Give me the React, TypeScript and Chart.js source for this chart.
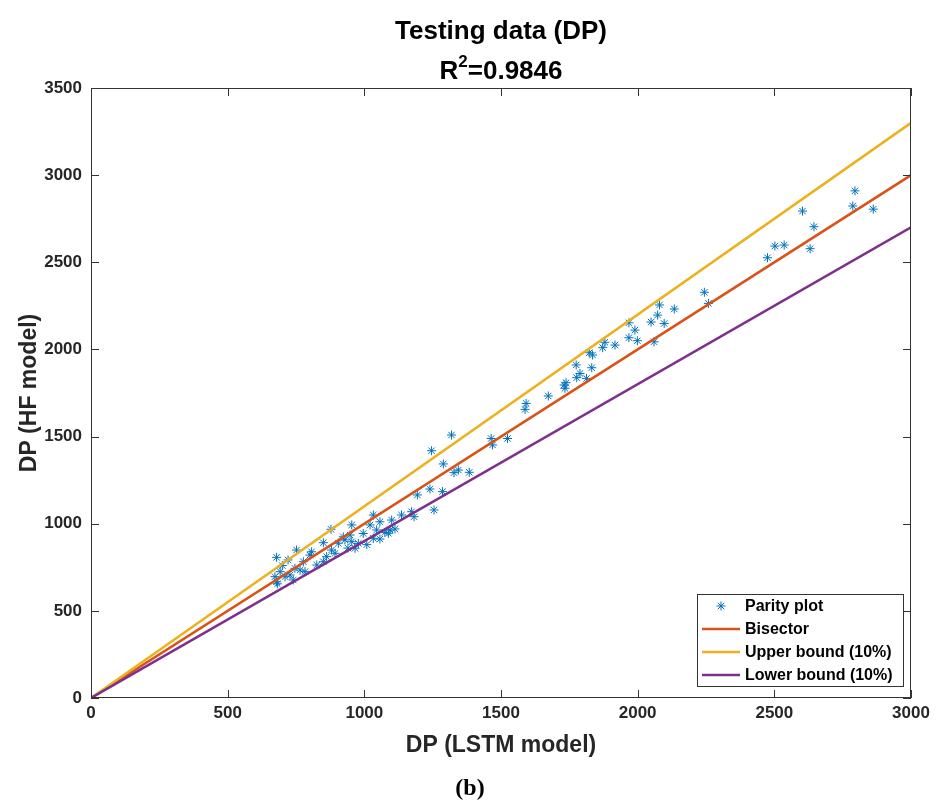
import React, { useEffect, useRef } from "react";
import { Chart, registerables } from "chart.js";

Chart.register(...registerables);

const lstmX: number[] = [
  2795, 2787, 2862, 2603, 2645, 2502, 2536, 2631, 2475,
  2244, 2259, 2080, 2134, 2073, 1968, 2049, 2097, 1990, 1968, 1999, 2060,
  1880, 1872, 1917, 1823, 1835, 1775, 1832, 1789, 1777, 1813, 1738, 1731, 1734, 1673, 1592, 1588,
  1319, 1246, 1464, 1469, 1524, 1289, 1328, 1344, 1384, 1240, 1194, 1286, 1255, 1173, 1182,
  1136, 1100, 1033, 1057, 954, 1021, 1045, 1094, 1112, 996, 1075, 1033, 948, 929, 954, 978, 966, 1057, 1009, 1088,
  878, 850, 807, 752, 880, 905, 923, 679, 721, 746, 777, 801, 862, 893, 765, 783, 728, 692, 673, 679, 710, 740, 682, 826, 850, 940, 700,
];
const hfY: number[] = [
  2910, 2823, 2805, 2794, 2704, 2593, 2599, 2578, 2526,
  2328, 2264, 2255, 2232, 2197, 2153, 2157, 2149, 2111, 2067, 2050, 2044,
  2041, 2010, 2025, 1981, 1968, 1911, 1895, 1862, 1838, 1834, 1809, 1796, 1777, 1733, 1690, 1656,
  1509, 1419, 1489, 1452, 1489, 1343, 1293, 1308, 1295, 1199, 1165, 1184, 1079, 1069, 1040,
  1050, 1021, 1050, 1011, 993, 993, 964, 964, 970, 944, 950, 916, 935, 907, 897, 887, 859, 912, 880, 945,
  968, 891, 839, 849, 849, 888, 925, 807, 792, 744, 782, 820, 811, 830, 734, 725, 706, 725, 696, 667, 696, 677, 655, 763, 782, 860, 760,
];

const lineX: number[] = [0, 3000];
const bisectorY: number[] = [0, 3000];
const upperY: number[] = [0, 3300];
const lowerY: number[] = [0, 2700];

const xTicks: number[] = [0, 500, 1000, 1500, 2000, 2500, 3000];
const yTicks: number[] = [0, 500, 1000, 1500, 2000, 2500, 3000, 3500];

const BLUE = "#0072BD";
const ORANGE = "#D95319";
const YELLOW = "#EDB120";
const PURPLE = "#7E2F8E";
const DARK = "#262626";
const SANS = "'Liberation Sans', Arial, Helvetica, sans-serif";

const legendItems = [
  { label: "Parity plot", color: BLUE, marker: true },
  { label: "Bisector", color: ORANGE, marker: false },
  { label: "Upper bound (10%)", color: YELLOW, marker: false },
  { label: "Lower bound (10%)", color: PURPLE, marker: false },
];

function drawStar(ctx: CanvasRenderingContext2D, x: number, y: number, r: number) {
  ctx.beginPath();
  for (let i = 0; i < 4; i++) {
    const a = (i * Math.PI) / 4;
    ctx.moveTo(x - r * Math.cos(a), y - r * Math.sin(a));
    ctx.lineTo(x + r * Math.cos(a), y + r * Math.sin(a));
  }
  ctx.stroke();
}

const decorPlugin = {
  id: "decor",
  afterDraw(chart: any) {
    const ctx: CanvasRenderingContext2D = chart.ctx;
    const { left, right, top, bottom } = chart.chartArea;
    const xs = chart.scales.x;
    const ys = chart.scales.y;
    ctx.save();
    ctx.strokeStyle = "#333";
    ctx.lineWidth = 1;
    ctx.strokeRect(left + 0.5, top + 0.5, right - left - 1, bottom - top - 1);
    const tl = 8;
    ctx.beginPath();
    xTicks.forEach((v) => {
      const px = Math.round(xs.getPixelForValue(v)) + 0.5;
      ctx.moveTo(px, bottom);
      ctx.lineTo(px, bottom - tl);
      ctx.moveTo(px, top);
      ctx.lineTo(px, top + tl);
    });
    yTicks.forEach((v) => {
      const py = Math.round(ys.getPixelForValue(v)) + 0.5;
      ctx.moveTo(left, py);
      ctx.lineTo(left + tl, py);
      ctx.moveTo(right, py);
      ctx.lineTo(right - tl, py);
    });
    ctx.stroke();

    const cx = (left + right) / 2;
    ctx.fillStyle = "#000";
    ctx.textBaseline = "alphabetic";
    ctx.textAlign = "center";
    ctx.font = `bold 26px ${SANS}`;
    ctx.fillText("Testing data (DP)", cx, 39);
    const big = `bold 26px ${SANS}`;
    const small = `bold 17px ${SANS}`;
    ctx.font = big;
    const wR = ctx.measureText("R").width;
    const wRest = ctx.measureText("=0.9846").width;
    ctx.font = small;
    const w2 = ctx.measureText("2").width;
    const total = wR + w2 + wRest;
    let sx = cx - total / 2;
    ctx.textAlign = "left";
    ctx.font = big;
    ctx.fillText("R", sx, 79);
    sx += wR;
    ctx.font = small;
    ctx.fillText("2", sx, 67);
    sx += w2;
    ctx.font = big;
    ctx.fillText("=0.9846", sx, 79);

    ctx.fillStyle = DARK;
    ctx.textAlign = "center";
    ctx.font = `bold 23px ${SANS}`;
    ctx.fillText("DP (LSTM model)", cx, 752);
    ctx.save();
    ctx.translate(36, (top + bottom) / 2);
    ctx.rotate(-Math.PI / 2);
    ctx.fillText("DP (HF model)", 0, 0);
    ctx.restore();

    ctx.fillStyle = "#000";
    ctx.font = `bold 24px 'Liberation Serif', 'Times New Roman', serif`;
    ctx.fillText("(b)", 470, 795);

    const lx = 697, ly = 594, lw = 206, lh = 92;
    ctx.fillStyle = "#fff";
    ctx.fillRect(lx, ly, lw, lh);
    ctx.strokeStyle = "#333";
    ctx.lineWidth = 1;
    ctx.strokeRect(lx + 0.5, ly + 0.5, lw, lh);
    ctx.font = `bold 16px ${SANS}`;
    ctx.textAlign = "left";
    ctx.textBaseline = "middle";
    legendItems.forEach((it, i) => {
      const y = ly + 12 + i * 23;
      if (it.marker) {
        ctx.strokeStyle = it.color;
        ctx.lineWidth = 1;
        drawStar(ctx, 721, y, 4.5);
      } else {
        ctx.strokeStyle = it.color;
        ctx.lineWidth = 2.5;
        ctx.beginPath();
        ctx.moveTo(702, y);
        ctx.lineTo(740, y);
        ctx.stroke();
      }
      ctx.fillStyle = "#000";
      ctx.fillText(it.label, 745, y + 1);
    });
    ctx.restore();
  },
};

export default function App() {
  const ref = useRef<HTMLCanvasElement | null>(null);
  useEffect(() => {
    if (!ref.current) return;
    const pts = lstmX.map((x, i) => ({ x, y: hfY[i] }));
    const mk = (ys: number[]) => lineX.map((x, i) => ({ x, y: ys[i] }));
    const chart = new Chart(ref.current, {
      type: "scatter",
      data: {
        datasets: [
          {
            type: "scatter",
            label: "Parity plot",
            data: pts,
            pointStyle: "star",
            pointRadius: 4.5,
            borderColor: BLUE,
            backgroundColor: BLUE,
            borderWidth: 1,
            order: 4,
          } as any,
          {
            type: "line",
            label: "Bisector",
            data: mk(bisectorY),
            borderColor: ORANGE,
            borderWidth: 2.5,
            pointRadius: 0,
            order: 3,
          },
          {
            type: "line",
            label: "Upper bound (10%)",
            data: mk(upperY),
            borderColor: YELLOW,
            borderWidth: 2.5,
            pointRadius: 0,
            order: 2,
          },
          {
            type: "line",
            label: "Lower bound (10%)",
            data: mk(lowerY),
            borderColor: PURPLE,
            borderWidth: 2.5,
            pointRadius: 0,
            order: 1,
          },
        ],
      },
      options: {
        animation: false,
        responsive: false,
        devicePixelRatio: 1,
        layout: { padding: { top: 88, right: 28, left: 0, bottom: 0 } },
        plugins: { legend: { display: false }, title: { display: false }, tooltip: { enabled: false } },
        scales: {
          x: {
            type: "linear",
            min: 0,
            max: 3000,
            afterFit: (s: any) => { s.height = 108; },
            afterBuildTicks: (s: any) => { s.ticks = xTicks.map((v) => ({ value: v })); },
            grid: { display: false, drawTicks: false },
            border: { display: false },
            ticks: { color: DARK, font: { family: SANS, size: 17, weight: "bold" }, padding: 5, maxRotation: 0, callback: (v: any) => String(v) },
          },
          y: {
            type: "linear",
            min: 0,
            max: 3500,
            afterFit: (s: any) => { s.width = 91; },
            afterBuildTicks: (s: any) => { s.ticks = yTicks.map((v) => ({ value: v })); },
            grid: { display: false, drawTicks: false },
            border: { display: false },
            ticks: { color: DARK, font: { family: SANS, size: 17, weight: "bold" }, padding: 9, callback: (v: any) => String(v) },
          },
        },
      } as any,
      plugins: [decorPlugin],
    });
    return () => chart.destroy();
  }, []);
  return (
    <div style={{ position: "fixed", left: 0, top: 0, width: 939, height: 806, background: "#fff" }}>
      <canvas ref={ref} width={939} height={806} style={{ width: 939, height: 806, display: "block" }} />
    </div>
  );
}
